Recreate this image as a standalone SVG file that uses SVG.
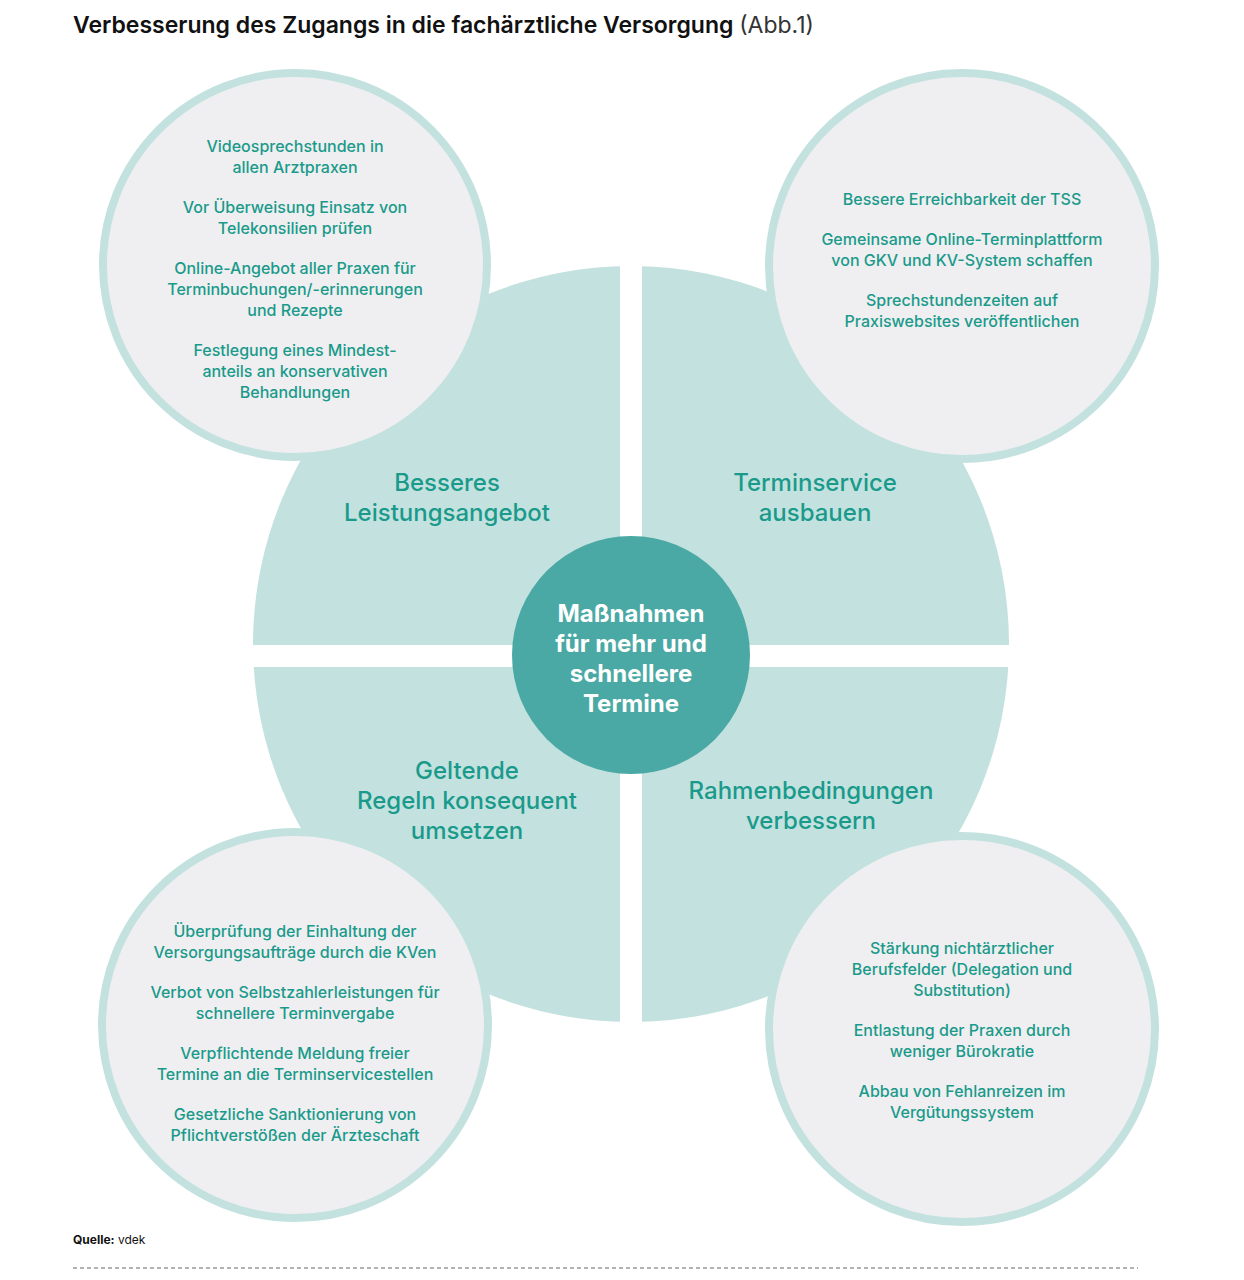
<svg xmlns="http://www.w3.org/2000/svg" width="1244" height="1280" viewBox="0 0 1244 1280">
<style>
text{font-family:"Inter","Liberation Sans",sans-serif}
.s{fill:#1a9a8b;font-size:16px;text-anchor:middle;font-weight:500}
.q{fill:#1a9a8b;font-size:24px;text-anchor:middle;font-weight:500}
.c{fill:#fff;font-size:24px;text-anchor:middle;font-weight:700}
.sm{fill:#efeff1;stroke:#c3e2df;stroke-width:8}
</style>
<rect width="1244" height="1280" fill="#fff"/>
<text x="73" y="33" font-size="23" font-weight="600" fill="#111">Verbesserung des Zugangs in die fachärztliche Versorgung <tspan font-weight="400" fill="#333">(Abb.1)</tspan></text>
<g id="big">
<circle cx="631" cy="644" r="378" fill="#c3e2df"/>
<rect x="620" y="250" width="22" height="790" fill="#fff"/>
<rect x="240" y="645" width="790" height="22" fill="#fff"/>
</g>
<g id="center">
<circle cx="631" cy="655" r="119" fill="#4aa9a4"/>
<text class="c" y="622"><tspan x="631">Maßnahmen</tspan><tspan x="631" dy="30">für mehr und</tspan><tspan x="631" dy="30">schnellere</tspan><tspan x="631" dy="30">Termine</tspan></text>
</g>
<g id="q1"><text class="q" y="491"><tspan x="447">Besseres</tspan><tspan x="447" dy="30">Leistungsangebot</tspan></text></g>
<g id="q2"><text class="q" y="491"><tspan x="815">Terminservice</tspan><tspan x="815" dy="30">ausbauen</tspan></text></g>
<g id="q3"><text class="q" y="779"><tspan x="467">Geltende</tspan><tspan x="467" dy="30">Regeln konsequent</tspan><tspan x="467" dy="30">umsetzen</tspan></text></g>
<g id="q4"><text class="q" y="799"><tspan x="811">Rahmenbedingungen</tspan><tspan x="811" dy="30">verbessern</tspan></text></g>
<g id="c1"><circle class="sm" cx="295" cy="265" r="192"/>
<text class="s" y="152"><tspan x="295">Videosprechstunden in</tspan><tspan x="295" dy="21">allen Arztpraxen</tspan><tspan x="295" dy="40">Vor Überweisung Einsatz von</tspan><tspan x="295" dy="21">Telekonsilien prüfen</tspan><tspan x="295" dy="40">Online-Angebot aller Praxen für</tspan><tspan x="295" dy="21">Terminbuchungen/-erinnerungen</tspan><tspan x="295" dy="21">und Rezepte</tspan><tspan x="295" dy="40">Festlegung eines Mindest-</tspan><tspan x="295" dy="21">anteils an konservativen</tspan><tspan x="295" dy="21">Behandlungen</tspan></text></g>
<g id="c2"><circle class="sm" cx="962" cy="266" r="193"/>
<text class="s" y="205"><tspan x="962">Bessere Erreichbarkeit der TSS</tspan><tspan x="962" dy="40">Gemeinsame Online-Terminplattform</tspan><tspan x="962" dy="21">von GKV und KV-System schaffen</tspan><tspan x="962" dy="40">Sprechstundenzeiten auf</tspan><tspan x="962" dy="21">Praxiswebsites veröffentlichen</tspan></text></g>
<g id="c3"><circle class="sm" cx="295" cy="1025" r="193"/>
<text class="s" y="937"><tspan x="295">Überprüfung der Einhaltung der</tspan><tspan x="295" dy="21">Versorgungsaufträge durch die KVen</tspan><tspan x="295" dy="40">Verbot von Selbstzahlerleistungen für</tspan><tspan x="295" dy="21">schnellere Terminvergabe</tspan><tspan x="295" dy="40">Verpflichtende Meldung freier</tspan><tspan x="295" dy="21">Termine an die Terminservicestellen</tspan><tspan x="295" dy="40">Gesetzliche Sanktionierung von</tspan><tspan x="295" dy="21">Pflichtverstößen der Ärzteschaft</tspan></text></g>
<g id="c4"><circle class="sm" cx="962" cy="1029" r="193"/>
<text class="s" y="954"><tspan x="962">Stärkung nichtärztlicher</tspan><tspan x="962" dy="21">Berufsfelder (Delegation und</tspan><tspan x="962" dy="21">Substitution)</tspan><tspan x="962" dy="40">Entlastung der Praxen durch</tspan><tspan x="962" dy="21">weniger Bürokratie</tspan><tspan x="962" dy="40">Abbau von Fehlanreizen im</tspan><tspan x="962" dy="21">Vergütungssystem</tspan></text></g>
<text x="73" y="1244" font-size="12" fill="#111"><tspan font-weight="700">Quelle:</tspan> vdek</text>
<line x1="73" y1="1268" x2="1138" y2="1268" stroke="#666" stroke-dasharray="4 3"/>
</svg>
